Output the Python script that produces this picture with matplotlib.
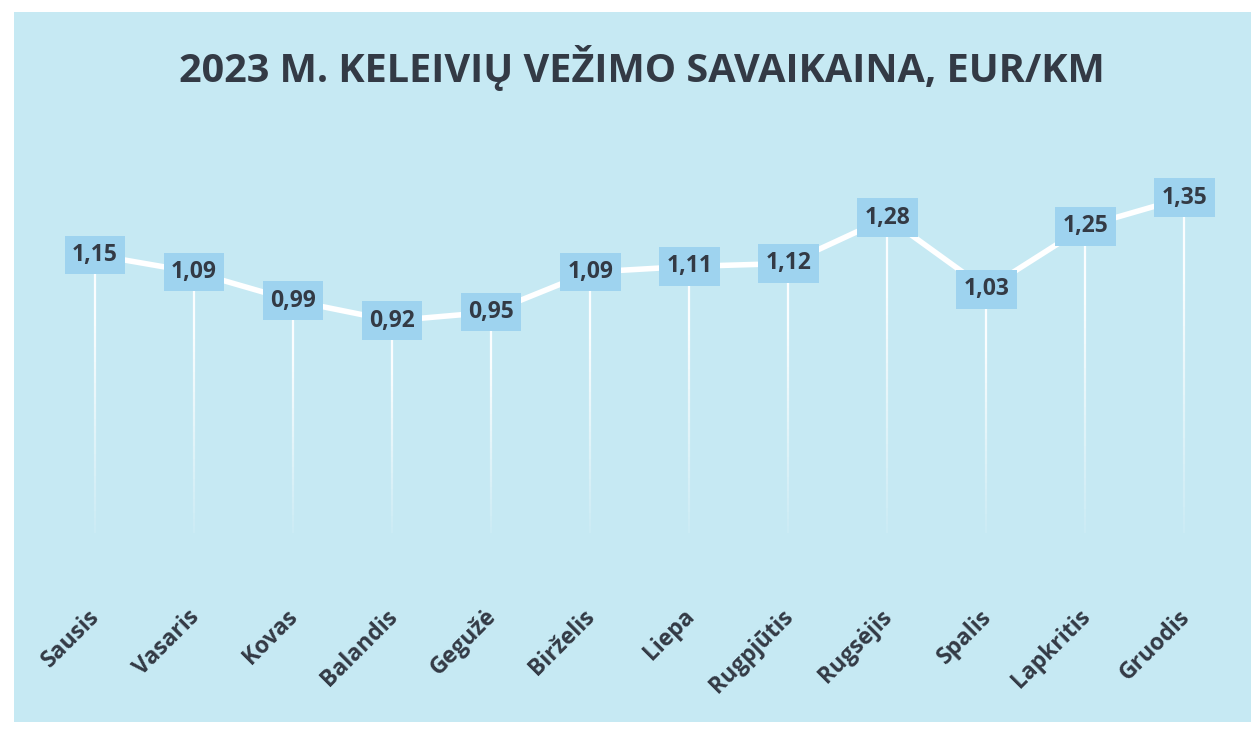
import numpy as np
import matplotlib.pyplot as plt
import matplotlib.transforms as mtransforms
from matplotlib.collections import LineCollection
from matplotlib.patches import Rectangle

months = ["Sausis", "Vasaris", "Kovas", "Balandis", "Gegužė", "Birželis",
          "Liepa", "Rugpjūtis", "Rugsėjis", "Spalis", "Lapkritis", "Gruodis"]
values = [1.15, 1.09, 0.99, 0.92, 0.95, 1.09, 1.11, 1.12, 1.28, 1.03, 1.25, 1.35]
labels = ["1,15", "1,09", "0,99", "0,92", "0,95", "1,09", "1,11", "1,12",
          "1,28", "1,03", "1,25", "1,35"]
title = "2023 M. KELEIVIŲ VEŽIMO SAVAIKAINA, EUR/KM"

bg = "#c6e9f3"
txt = "#333a45"
box = "#9ed3ef"
font = ["Open Sans", "DejaVu Sans"]

fig = plt.figure(figsize=(12.51, 7.31), dpi=100)
fig.patch.set_facecolor("white")
fig.patches.append(Rectangle((14/1251, 9/731), 1 - 14/1251, 1 - 9/731 - 12/731,
                             transform=fig.transFigure, facecolor=bg,
                             edgecolor="none", zorder=-5))

ax = fig.add_axes([0.0364, 0.201, 0.950, 0.594])
ax.set_facecolor("none")
x = np.arange(len(months))
ax.set_xlim(-0.5, len(months) - 0.5)
ax.set_ylim(0, 1.517)

# drop lines fading out towards the bottom
segs, cols = [], []
for xi, v in zip(x, values):
    ys = np.linspace(0.18, v, 40)
    for i in range(len(ys) - 1):
        segs.append([(xi, ys[i]), (xi, ys[i + 1])])
        a = (ys[i] - 0.18) / (v - 0.18)
        cols.append((1, 1, 1, min(0.95, 0.1 + a * 1.1)))
ax.add_collection(LineCollection(segs, colors=cols, linewidths=1.6, zorder=1))

ax.plot(x, values, color="white", lw=4, solid_capstyle="round", zorder=2)

for xi, v, s in zip(x, values, labels):
    ax.text(xi, v, s, ha="center", va="center", fontsize=16.5, fontweight="bold",
            color=txt, family=font, zorder=3,
            bbox=dict(boxstyle="square,pad=0.32", facecolor=box, edgecolor="none"))

ax.set_xticks(x)
ax.set_xticklabels(months, rotation=45, ha="right", va="top",
                   rotation_mode="anchor", fontsize=16.5, fontweight="bold",
                   color=txt, family=font)
ax.tick_params(axis="x", length=0, pad=15)
shift = mtransforms.ScaledTranslation(-7/100, 0, fig.dpi_scale_trans)
for lab in ax.get_xticklabels():
    lab.set_transform(lab.get_transform() + shift)
ax.set_yticks([])
for sp in ax.spines.values():
    sp.set_visible(False)

fig.text(0.513, 0.907, title, ha="center", va="center", fontsize=28.5,
         fontweight="bold", color=txt, family=font)

fig.savefig("out.png", dpi=100, facecolor=fig.get_facecolor())
